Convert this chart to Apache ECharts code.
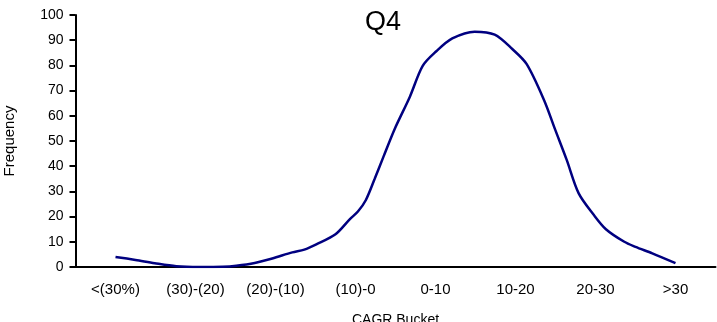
<!DOCTYPE html>
<html>
<head>
<meta charset="utf-8">
<title>Q4</title>
<script src="https://cdn.jsdelivr.net/npm/echarts@6/dist/echarts.min.js"></script>
<style>
  html, body { margin: 0; padding: 0; background: #fff; }
  #chart { width: 717px; height: 322px; }
</style>
</head>
<body>
<div id="chart"></div>
<script>
// bucket labels on the x axis
const buckets = ['<(30%)', '(30)-(20)', '(20)-(10)', '(10)-0', '0-10', '10-20', '20-30', '>30'];
// y ticks
const yMin = 0;
const yMax = 100;
const yStep = 10;
// curve: position in bucket units (0 = first bucket) and frequency
const curvePos = [0, 0.25, 0.49, 0.76, 1.05, 1.34, 1.51, 1.74, 1.96, 2.21, 2.36, 2.51, 2.75, 2.93, 3.03,
  3.13, 3.24, 3.35, 3.49, 3.68, 3.84, 4.01, 4.21, 4.49, 4.74, 4.96, 5.14, 5.36, 5.49, 5.64, 5.79,
  5.98, 6.13, 6.36, 6.5, 6.71, 7];
const curveFreq = [4.0, 2.8, 1.5, 0.3, 0, 0.1, 0.5, 1.6, 3.4, 5.8, 6.9, 9.0, 13.0, 19.0, 22.0,
  26.6, 35, 43.8, 54.8, 67.6, 79.8, 85.6, 90.7, 93.4, 92.2, 86.5, 80.5, 66, 55, 42.5, 29.2,
  20.6, 15, 10, 8, 5.4, 1.5];

const font = 'Liberation Sans, Arial, sans-serif';
const chart = echarts.init(document.getElementById('chart'));

chart.setOption({
  animation: false,
  backgroundColor: '#fff',
  title: {
    text: 'Q4',
    left: 378,
    top: 4,
    textAlign: 'center',
    textStyle: { fontFamily: font, fontWeight: 'normal', fontSize: 27, color: '#000' }
  },
  grid: {
    left: 75.5,
    right: 1.5,
    top: 15,
    bottom: 55,
    containLabel: false,
    outerBoundsMode: 'none'
  },
  xAxis: [
    {
      type: 'category',
      data: buckets,
      boundaryGap: true,
      name: 'CAGR Bucket',
      nameLocation: 'middle',
      nameGap: 46,
      nameTextStyle: { fontFamily: font, fontSize: 14, color: '#000' },
      axisLine: { lineStyle: { color: '#000', width: 2 } },
      axisTick: { length: 6, lineStyle: { color: '#000', width: 2 } },
      axisLabel: { margin: 15, fontFamily: font, fontSize: 15, color: '#000', interval: 0 },
      splitLine: { show: false }
    },
    {
      // hidden value axis so the curve can sit between bucket centres
      type: 'value',
      min: -0.5,
      max: buckets.length - 0.5,
      show: false
    }
  ],
  yAxis: {
    type: 'value',
    min: yMin,
    max: yMax,
    interval: yStep,
    name: 'Frequency',
    nameLocation: 'middle',
    nameGap: 58,
    nameTextStyle: { fontFamily: font, fontSize: 15, color: '#000' },
    axisLine: { show: true, onZero: false, lineStyle: { color: '#000', width: 2 } },
    axisTick: { show: true, length: 6, lineStyle: { color: '#000', width: 2 } },
    axisLabel: { margin: 12, fontFamily: font, fontSize: 14, color: '#000' },
    splitLine: { show: false }
  },
  series: [
    {
      type: 'line',
      xAxisIndex: 1,
      data: curvePos.map((p, i) => [p, curveFreq[i]]),
      smooth: 0.3,
      showSymbol: false,
      lineStyle: { color: '#000080', width: 2.5 }
    }
  ]
});
</script>
</body>
</html>
